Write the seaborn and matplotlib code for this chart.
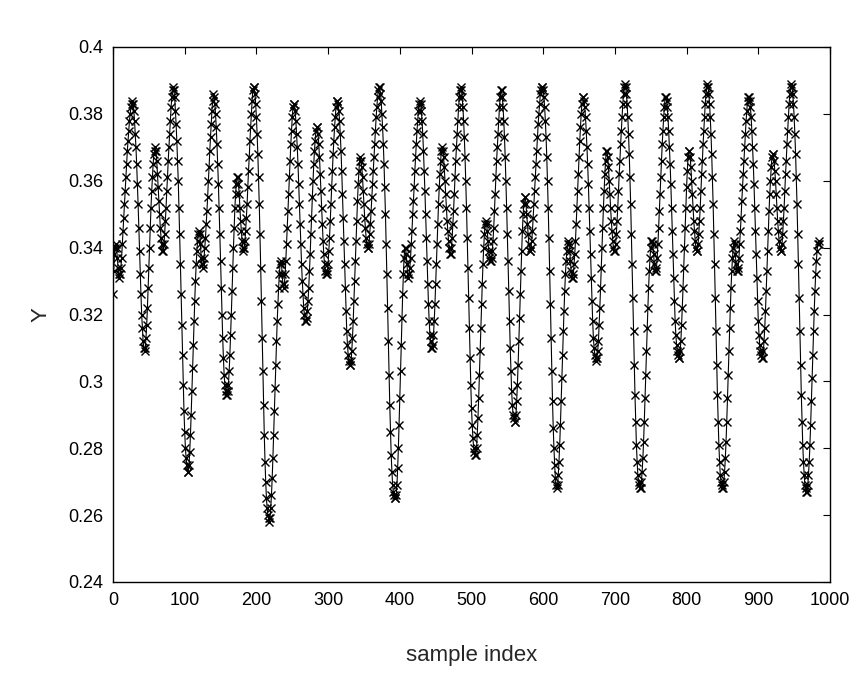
import numpy as np
import pandas as pd
import matplotlib
matplotlib.use("Agg")
import matplotlib.pyplot as plt
import seaborn as sns

# ---- data (one value per sample index) ----
y_part1 = [
    0.326, 0.333, 0.338, 0.340, 0.341, 0.340, 0.337, 0.334, 0.332, 0.331, 0.332, 0.334, 0.337, 0.341,
    0.345, 0.349, 0.353, 0.357, 0.361, 0.365, 0.369, 0.372, 0.375, 0.378, 0.380, 0.382, 0.383, 0.384,
    0.383, 0.381, 0.378, 0.374, 0.370, 0.365, 0.359, 0.353, 0.346, 0.339, 0.332, 0.326, 0.320, 0.316, 0.312, 0.310, 0.309,
    0.310, 0.313, 0.317, 0.322, 0.328, 0.334, 0.340, 0.346, 0.352, 0.357, 0.361, 0.365, 0.368, 0.369, 0.370,
    0.369, 0.366, 0.362, 0.358, 0.354, 0.350, 0.346, 0.343, 0.341, 0.339, 0.339,
    0.341, 0.344, 0.348, 0.352, 0.357, 0.361, 0.366, 0.370, 0.374, 0.378, 0.382, 0.385, 0.387, 0.388,
    0.387, 0.385, 0.381, 0.377, 0.372, 0.366, 0.360, 0.352, 0.344, 0.335, 0.326, 0.317, 0.308, 0.299, 0.291, 0.285, 0.280, 0.277, 0.275, 0.273, 0.273,
    0.275, 0.279, 0.284, 0.290, 0.297, 0.304, 0.311, 0.318, 0.324, 0.330, 0.335, 0.339, 0.342, 0.344,
    0.345, 0.344, 0.341, 0.337, 0.335, 0.334, 0.335, 0.337, 0.340,
    0.343, 0.347, 0.351, 0.355, 0.360, 0.364, 0.369, 0.373, 0.377, 0.381, 0.384, 0.386,
    0.385, 0.383, 0.380, 0.376, 0.371, 0.365, 0.359, 0.352, 0.344, 0.336, 0.328, 0.320, 0.313, 0.307, 0.302, 0.299, 0.297, 0.296, 0.296, 0.297,
    0.299, 0.303, 0.308, 0.314, 0.320, 0.327, 0.334, 0.340, 0.346, 0.352, 0.356, 0.359, 0.361,
    0.361, 0.359, 0.356, 0.352, 0.348, 0.345, 0.342, 0.340, 0.339, 0.340,
    0.342, 0.345, 0.349, 0.353, 0.358, 0.363, 0.367, 0.372, 0.376, 0.380, 0.384, 0.387, 0.388,
]
y_part2 = [
    0.388, 0.386, 0.383, 0.379, 0.374, 0.368, 0.361, 0.353, 0.344, 0.334, 0.324, 0.313, 0.303, 0.293, 0.284, 0.276, 0.270, 0.265, 0.262, 0.260, 0.259, 0.258,
    0.259, 0.262, 0.266, 0.271, 0.277, 0.284, 0.291, 0.298, 0.305, 0.312, 0.318, 0.323, 0.328, 0.332, 0.335,
    0.336, 0.335, 0.332, 0.329, 0.328, 0.329, 0.332, 0.336,
    0.341, 0.346, 0.351, 0.356, 0.361, 0.366, 0.371, 0.375, 0.379, 0.382, 0.383,
    0.383, 0.381, 0.378, 0.374, 0.370, 0.365, 0.359, 0.353, 0.347, 0.341, 0.335, 0.330, 0.326, 0.322, 0.320, 0.318, 0.318,
    0.319, 0.321, 0.324, 0.328, 0.333, 0.338, 0.344, 0.349, 0.355, 0.360, 0.365, 0.369, 0.372, 0.375, 0.376,
    0.376, 0.374, 0.371, 0.367, 0.362, 0.357, 0.352, 0.347, 0.342, 0.338, 0.335, 0.333, 0.332, 0.332,
    0.333, 0.335, 0.339, 0.343, 0.348, 0.353, 0.358, 0.363, 0.368, 0.372, 0.376, 0.379, 0.382, 0.384, 0.384,
    0.383, 0.381, 0.378, 0.374, 0.369, 0.363, 0.356, 0.349, 0.342, 0.335, 0.328, 0.321, 0.315, 0.311, 0.308, 0.306, 0.305, 0.305,
    0.306, 0.309, 0.313, 0.318, 0.324, 0.330, 0.336, 0.342, 0.348, 0.354, 0.359, 0.363, 0.366, 0.367,
    0.366, 0.364, 0.361, 0.357, 0.353, 0.349, 0.346, 0.343, 0.341, 0.340, 0.340,
    0.341, 0.344, 0.347, 0.351, 0.355, 0.359, 0.363, 0.367, 0.371, 0.375, 0.379, 0.382, 0.385, 0.387, 0.388,
]
y_part3 = [
    0.388, 0.386, 0.384, 0.380, 0.376, 0.371, 0.365, 0.358, 0.350, 0.341, 0.332, 0.322, 0.312, 0.302, 0.293, 0.285, 0.278, 0.273, 0.269, 0.267, 0.266, 0.265, 0.265,
    0.266, 0.269, 0.274, 0.280, 0.287, 0.295, 0.303, 0.311, 0.319, 0.326, 0.332, 0.337, 0.340,
    0.340, 0.338, 0.335, 0.332, 0.331, 0.332, 0.334, 0.337, 0.341,
    0.345, 0.350, 0.354, 0.358, 0.363, 0.367, 0.371, 0.375, 0.378, 0.381, 0.383, 0.384,
    0.383, 0.381, 0.378, 0.374, 0.369, 0.363, 0.357, 0.350, 0.343, 0.336, 0.329, 0.323, 0.318, 0.314, 0.312, 0.310, 0.310,
    0.311, 0.314, 0.318, 0.323, 0.329, 0.335, 0.341, 0.347, 0.353, 0.358, 0.362, 0.366, 0.369, 0.370,
    0.369, 0.367, 0.364, 0.360, 0.356, 0.352, 0.348, 0.345, 0.342, 0.340, 0.338, 0.338,
    0.340, 0.343, 0.347, 0.351, 0.356, 0.361, 0.366, 0.370, 0.374, 0.378, 0.382, 0.385, 0.387,
    0.388, 0.387, 0.385, 0.382, 0.378, 0.373, 0.367, 0.360, 0.352, 0.343, 0.334, 0.325, 0.316, 0.307, 0.299, 0.292, 0.287, 0.283, 0.280, 0.279, 0.278, 0.278,
    0.280, 0.284, 0.289, 0.295, 0.302, 0.309, 0.316, 0.323, 0.329, 0.335, 0.340, 0.344, 0.347, 0.348,
    0.347, 0.345, 0.342, 0.339, 0.337, 0.336, 0.336, 0.337, 0.339, 0.342,
    0.346, 0.351, 0.356, 0.361, 0.366, 0.370, 0.374, 0.378, 0.382, 0.385, 0.387,
    0.387, 0.385, 0.382, 0.378, 0.373, 0.367, 0.360, 0.352, 0.344, 0.336, 0.327, 0.318, 0.310, 0.303, 0.297, 0.293, 0.290, 0.289, 0.288, 0.288,
    0.290, 0.294, 0.299, 0.305, 0.312, 0.319, 0.326, 0.333, 0.339, 0.345, 0.350, 0.353, 0.355,
    0.355, 0.353, 0.350, 0.347, 0.344, 0.341, 0.339, 0.339,
    0.340, 0.342, 0.345, 0.349, 0.353, 0.357, 0.361, 0.365, 0.369, 0.373, 0.377, 0.380, 0.383, 0.386, 0.387, 0.388,
]
y_part4 = [
    0.388, 0.387, 0.385, 0.382, 0.378, 0.373, 0.367, 0.360, 0.352, 0.343, 0.333, 0.323, 0.313, 0.303, 0.294, 0.286, 0.280, 0.275, 0.271, 0.269, 0.268,
    0.269, 0.272, 0.276, 0.281, 0.287, 0.294, 0.301, 0.308, 0.315, 0.321, 0.327, 0.332, 0.336, 0.339, 0.341, 0.342,
    0.341, 0.339, 0.336, 0.333, 0.331, 0.331, 0.332, 0.335, 0.338, 0.342,
    0.347, 0.352, 0.357, 0.362, 0.367, 0.372, 0.376, 0.380, 0.383, 0.385,
    0.385, 0.384, 0.382, 0.379, 0.375, 0.370, 0.365, 0.359, 0.352, 0.345, 0.338, 0.331, 0.324, 0.318, 0.313, 0.310, 0.308, 0.307, 0.306,
    0.307, 0.309, 0.312, 0.317, 0.322, 0.328, 0.334, 0.340, 0.346, 0.352, 0.357, 0.362, 0.366, 0.369,
    0.369, 0.367, 0.364, 0.360, 0.356, 0.352, 0.348, 0.345, 0.342, 0.340, 0.339, 0.339,
    0.341, 0.344, 0.348, 0.352, 0.357, 0.362, 0.366, 0.371, 0.375, 0.379, 0.383, 0.386, 0.388, 0.389,
    0.388, 0.386, 0.383, 0.379, 0.374, 0.368, 0.361, 0.353, 0.344, 0.335, 0.325, 0.315, 0.305, 0.296, 0.288, 0.281, 0.276, 0.272, 0.270, 0.269, 0.268, 0.268,
    0.270, 0.273, 0.277, 0.282, 0.288, 0.295, 0.302, 0.309, 0.316, 0.322, 0.328, 0.333, 0.337, 0.340, 0.342, 0.342,
    0.341, 0.338, 0.335, 0.333, 0.333, 0.334, 0.337, 0.341,
    0.346, 0.351, 0.356, 0.361, 0.366, 0.371, 0.375, 0.379, 0.382, 0.385,
    0.385, 0.384, 0.382, 0.379, 0.375, 0.370, 0.365, 0.359, 0.352, 0.345, 0.338, 0.331, 0.324, 0.318, 0.314, 0.311, 0.309, 0.308, 0.307, 0.307,
]
y_part5 = [
    0.309, 0.312, 0.317, 0.322, 0.328, 0.334, 0.340, 0.346, 0.352, 0.358, 0.363, 0.367, 0.369,
    0.369, 0.367, 0.364, 0.360, 0.356, 0.352, 0.348, 0.345, 0.342, 0.340, 0.339, 0.339,
    0.341, 0.344, 0.348, 0.352, 0.357, 0.362, 0.366, 0.371, 0.375, 0.379, 0.383, 0.386, 0.388, 0.389,
    0.388, 0.386, 0.383, 0.379, 0.374, 0.368, 0.361, 0.353, 0.344, 0.335, 0.325, 0.315, 0.305, 0.296, 0.288, 0.281, 0.276, 0.272, 0.270, 0.269, 0.268, 0.268,
    0.270, 0.273, 0.277, 0.282, 0.288, 0.295, 0.302, 0.309, 0.316, 0.322, 0.328, 0.333, 0.337, 0.340, 0.342,
    0.341, 0.338, 0.335, 0.333, 0.333, 0.334, 0.337, 0.341,
    0.345, 0.349, 0.354, 0.358, 0.362, 0.366, 0.370, 0.374, 0.378, 0.381, 0.384, 0.385,
    0.385, 0.384, 0.382, 0.379, 0.375, 0.370, 0.365, 0.359, 0.352, 0.345, 0.338, 0.331, 0.324, 0.318, 0.314, 0.311, 0.309, 0.308, 0.307, 0.307,
    0.309, 0.312, 0.316, 0.321, 0.327, 0.333, 0.339, 0.345, 0.351, 0.356, 0.360, 0.364, 0.367, 0.368,
    0.368, 0.366, 0.363, 0.360, 0.356, 0.352, 0.348, 0.345, 0.342, 0.340, 0.339, 0.339,
    0.341, 0.344, 0.348, 0.352, 0.357, 0.362, 0.366, 0.371, 0.375, 0.379, 0.383, 0.386, 0.388, 0.389,
    0.388, 0.386, 0.383, 0.379, 0.374, 0.368, 0.361, 0.353, 0.344, 0.335, 0.325, 0.315, 0.305, 0.296, 0.288, 0.281, 0.276, 0.272, 0.269, 0.268, 0.267, 0.267,
    0.269, 0.272, 0.276, 0.281, 0.287, 0.294, 0.301, 0.308, 0.315, 0.321, 0.327, 0.332, 0.336, 0.339, 0.341, 0.342, 0.341,
]

x_ticks = [0, 100, 200, 300, 400, 500, 600, 700, 800, 900, 1000]
y_ticks = [0.24, 0.26, 0.28, 0.30, 0.32, 0.34, 0.36, 0.38, 0.40]
y_tick_labels = ["0.24", "0.26", "0.28", "0.3", "0.32", "0.34", "0.36", "0.38", "0.4"]
x_label = "sample index"
y_label = "Y"

y_values = y_part1 + y_part2 + y_part3 + y_part4 + y_part5
df = pd.DataFrame({"sample index": np.arange(len(y_values)), "Y": y_values})

sns.set_style("white")
plt.rcParams["font.family"] = ["Liberation Sans", "DejaVu Sans"]

fig = plt.figure(figsize=(8.59, 6.75), dpi=100)
ax = fig.add_axes([113 / 859, 1 - 582 / 675, (830 - 113) / 859, (582 - 47) / 675])

sns.lineplot(data=df, x="sample index", y="Y", ax=ax, color="black",
             linewidth=0.8, marker="x", markersize=6, markeredgewidth=1.0,
             markeredgecolor="black")

ax.set_xlim(0, 1000)
ax.set_ylim(0.24, 0.4)
ax.set_xticks(x_ticks)
ax.set_xticklabels([str(t) for t in x_ticks])
ax.set_yticks(y_ticks)
ax.set_yticklabels(y_tick_labels)
ax.tick_params(direction="in", top=True, right=True, length=5, width=0.8,
               labelsize=13, pad=7, colors="black")
for s in ax.spines.values():
    s.set_color("black")
    s.set_linewidth(1.0)
ax.set_xlabel(x_label, fontsize=16, labelpad=26)
ax.set_ylabel(y_label, fontsize=16, labelpad=12)

fig.savefig("out.png", dpi=100)
